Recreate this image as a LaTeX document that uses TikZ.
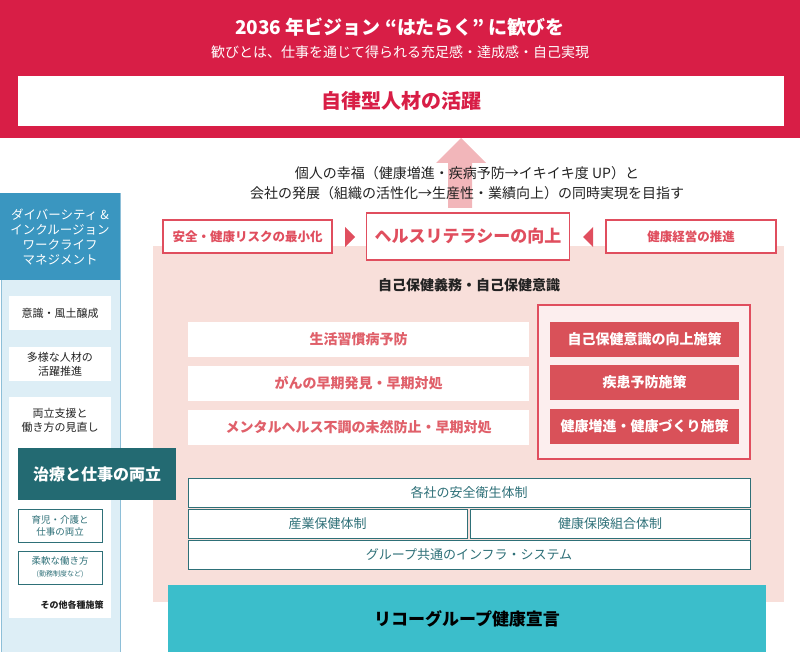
\documentclass[tikz,border=0pt]{standalone}
\usepackage{fontspec}
\setmainfont{Noto Sans CJK JP}
\usetikzlibrary{positioning,shapes,arrows}

\definecolor{crimson}{HTML}{D81E46}
\definecolor{pinkbg}{HTML}{F8DFDA}
\definecolor{arrowpink}{HTML}{F2B6BA}
\definecolor{frred}{HTML}{E04E5E}
\definecolor{txred}{HTML}{E0606A}
\definecolor{boxred}{HTML}{D95159}
\definecolor{framefill}{HTML}{FCEEEE}
\definecolor{tealline}{HTML}{2E7078}
\definecolor{tealdark}{HTML}{236A72}
\definecolor{cyanbox}{HTML}{3BBECB}
\definecolor{headblue}{HTML}{3A96C0}
\definecolor{lightblue}{HTML}{DDEEF6}
\definecolor{blueline}{HTML}{8EBFD8}
\definecolor{textdark}{HTML}{222222}

\begin{document}
\begin{tikzpicture}[x=1pt,y=-1pt,
		every node/.style={inner sep=0pt},
		redframe/.style={draw=frred,line width=1.2pt,fill=white,text=frred,font=\bfseries\fontsize{12.5}{15}\selectfont},
		pinkbox/.style={fill=white,text=txred,font=\bfseries\fontsize{14}{16}\selectfont,minimum width=341pt,minimum height=35pt},
		redfill/.style={fill=boxred,text=white,font=\bfseries\fontsize{14}{16}\selectfont,minimum width=189pt,minimum height=35pt},
		tealframe/.style={draw=tealline,line width=1pt,fill=white,text=tealline,font=\fontsize{13}{15}\selectfont,minimum height=29pt},
		leftbox/.style={fill=white,text=textdark,font=\fontsize{11}{14}\selectfont,align=center,minimum width=102pt},
		smallbox/.style={draw=tealline,line width=1pt,fill=white,text=tealline,font=\fontsize{9.5}{12}\selectfont,align=center,minimum width=84pt,minimum height=33pt}]
	\useasboundingbox (0,0) rectangle (800,652);
	% hintergrund
	\fill[pinkbg] (153,246) rectangle (784,602);
	\fill[crimson] (0,0) rectangle (800,138);
	\node[text=white,font=\bfseries\fontsize{19}{22}\selectfont] (vision) at (400,27) {2036 年ビジョン “はたらく” に歓びを};
	\node[text=white,font=\fontsize{14}{16}\selectfont] (yorokobi) at (400,52) {歓びとは、仕事を通じて得られる充足感・達成感・自己実現};
	\node[fill=white,minimum width=766pt,minimum height=50pt,text=crimson,font=\bfseries\fontsize{20}{24}\selectfont] (jiritsu) at (401,101) {自律型人材の活躍};
	% pfeil nach oben
	\fill[arrowpink] (461,138) -- (486,163) -- (472,163) -- (472,208) -- (448,208) -- (448,163) -- (436,163) -- cycle;
	\node[align=center,text=textdark,font=\fontsize{14}{20}\selectfont] (mokuhyo) at (467,183)
		{個人の幸福（健康増進・疾病予防→イキイキ度 UP）と\\会社の発展（組織の活性化→生産性・業績向上）の同時実現を目指す};
	% obere reihe
	\node[redframe,minimum width=169pt,minimum height=33pt] (risk) at (247.5,236.5) {安全・健康リスクの最小化};
	\node[redframe,minimum width=203pt,minimum height=47pt,font=\bfseries\fontsize{17}{20}\selectfont] (literacy) at (468,236.5) {ヘルスリテラシーの向上};
	\node[redframe,minimum width=170pt,minimum height=33pt] (keiei) at (691,236.5) {健康経営の推進};
	\fill[frred] (345,227) -- (355,237) -- (345,247) -- cycle;
	\fill[frred] (593,227) -- (583,237) -- (593,247) -- cycle;
	\node[text=textdark,font=\bfseries\fontsize{14}{16}\selectfont] (gimu) at (469,285) {自己保健義務・自己保健意識};
	% massnahmen
	\node[pinkbox] (seikatsu) at (358.5,339.5) {生活習慣病予防};
	\node[pinkbox] (gan) at (358.5,383.5) {がんの早期発見・早期対処};
	\node[pinkbox] (mental) at (358.5,427.5) {メンタルヘルス不調の未然防止・早期対処};
	\node[draw=frred,line width=2pt,fill=framefill,minimum width=212pt,minimum height=154pt] (sesaku) at (644,382) {};
	\node[redfill] (ishikikojo) at (644.5,339) {自己保健意識の向上施策};
	\node[redfill] (shikkan) at (644.5,382.5) {疾患予防施策};
	\node[redfill] (zoshin) at (644.5,426.5) {健康増進・健康づくり施策};
	% organisation
	\node[tealframe,minimum width=562pt] (eisei) at (469,492.5) {各社の安全衛生体制};
	\node[tealframe,minimum width=279pt] (sangyo) at (327.5,523.5) {産業保健体制};
	\node[tealframe,minimum width=280pt] (kumiai) at (610,523.5) {健康保険組合体制};
	\node[tealframe,minimum width=562pt] (infra) at (469,554.5) {グループ共通のインフラ・システム};
	\node[fill=cyanbox,minimum width=598pt,minimum height=67pt,text=black,font=\bfseries\fontsize{17}{20}\selectfont] (sengen) at (467,618.5) {リコーグループ健康宣言};
	% linke spalte
	\node[fill=lightblue,draw=blueline,minimum width=119pt,minimum height=459pt] (dicol) at (60.5,422.5) {};
	\node[fill=headblue,minimum width=120pt,minimum height=87pt,text=white,align=center,font=\fontsize{12.5}{15}\selectfont] (dihead) at (60,236.5)
		{ダイバーシティ \&\\インクルージョン\\ワークライフ\\マネジメント};
	\node[leftbox,minimum height=34pt] (ishiki) at (60,313) {意識・風土醸成};
	\node[leftbox,minimum height=34pt] (tayou) at (60,364) {多様な人材の\\活躍推進};
	\node[leftbox,minimum height=221pt] (ryouritsu) at (60,507.5) {};
	\node[text=textdark,align=center,font=\fontsize{11}{14}\selectfont] (shien) at (60,420) {両立支援と\\働き方の見直し};
	\node[fill=tealdark,minimum width=158pt,minimum height=52pt,text=white,font=\bfseries\fontsize{16}{18}\selectfont] (chiryo) at (97,474) {治療と仕事の両立};
	\node[smallbox] (ikuji) at (60,525.5) {育児・介護と\\仕事の両立};
	\node[smallbox] (juunan) at (60,567.5) {柔軟な働き方\\{\fontsize{7}{9}\selectfont (勤務制度など)}};
	\node[text=textdark,font=\bfseries\fontsize{9}{11}\selectfont] (sonota) at (72,605) {その他各種施策};
\end{tikzpicture}
\end{document}
